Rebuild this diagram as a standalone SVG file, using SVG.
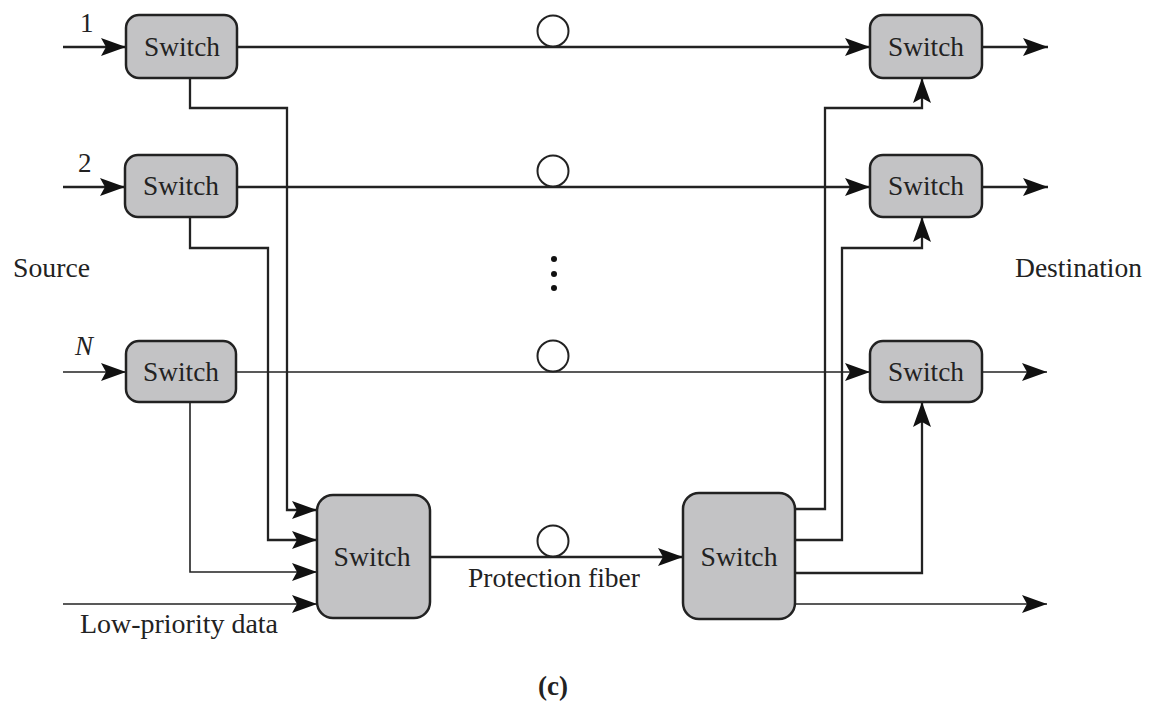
<svg xmlns="http://www.w3.org/2000/svg" width="1153" height="704" viewBox="0 0 1153 704">
<style>
.sw{fill:#c3c3c5;stroke:#222;stroke-width:2.5}
.t{font-family:"Liberation Serif","Times New Roman",serif;font-size:27px;fill:#222}
.c{text-anchor:middle}
.ln{fill:none;stroke:#222;stroke-width:2.3}
.thin{fill:none;stroke:#222;stroke-width:1.6}
.loop{fill:#fff;stroke:#222;stroke-width:2}
</style>
<defs>
<marker id="ah" markerUnits="userSpaceOnUse" markerWidth="28" markerHeight="20" refX="25" refY="9" orient="auto">
<path d="M0,0 L25,9 L0,18 L5,9 z" fill="#111"/>
</marker>
</defs>
<rect width="1153" height="704" fill="#fff"/>
<g id="connectors">
<path class="ln" d="M63,47 H126" marker-end="url(#ah)"/>
<path class="ln" d="M63,187 H125" marker-end="url(#ah)"/>
<path class="thin" d="M63,372 H126" marker-end="url(#ah)"/>
<path class="ln" d="M237,47 H870" marker-end="url(#ah)"/>
<path class="ln" d="M237,187 H870" marker-end="url(#ah)"/>
<path class="thin" d="M236,372 H870" marker-end="url(#ah)"/>
<path class="ln" d="M982,47 H1048" marker-end="url(#ah)"/>
<path class="ln" d="M982,187 H1048" marker-end="url(#ah)"/>
<path class="thin" d="M982,372 H1047" marker-end="url(#ah)"/>
<path class="ln" d="M190,78 V108 H287 V510 H317" marker-end="url(#ah)"/>
<path class="ln" d="M190,217 V248 H268 V540 H317" marker-end="url(#ah)"/>
<path class="thin" d="M190,402 V572 H317" marker-end="url(#ah)"/>
<path class="thin" d="M63,604 H317" marker-end="url(#ah)"/>
<path class="ln" d="M430,557 H683" marker-end="url(#ah)"/>
<path class="ln" d="M795,509 H825 V108 H922 V78" marker-end="url(#ah)"/>
<path class="ln" d="M795,540 H842 V248 H922 V217" marker-end="url(#ah)"/>
<path class="ln" d="M795,573 H922 V402" marker-end="url(#ah)"/>
<path class="thin" d="M795,604 H1047" marker-end="url(#ah)"/>
<circle class="loop" cx="553" cy="31" r="15.5"/>
<circle class="loop" cx="553" cy="171" r="15.5"/>
<circle class="loop" cx="553" cy="356" r="15.5"/>
<circle class="loop" cx="553" cy="541" r="15.5"/>
<circle cx="554" cy="259" r="3" fill="#111"/>
<circle cx="554" cy="274" r="3" fill="#111"/>
<circle cx="554" cy="288" r="3" fill="#111"/>
</g>
<g id="sw1"><rect class="sw" x="126" y="15" width="111" height="63" rx="13"/><text class="t c" x="182" y="56" textLength="76" lengthAdjust="spacingAndGlyphs">Switch</text></g>
<g id="sw2"><rect class="sw" x="125" y="155" width="112" height="62" rx="13"/><text class="t c" x="181" y="195" textLength="76" lengthAdjust="spacingAndGlyphs">Switch</text></g>
<g id="swN"><rect class="sw" x="126" y="341" width="110" height="61" rx="13"/><text class="t c" x="181" y="381" textLength="76" lengthAdjust="spacingAndGlyphs">Switch</text></g>
<g id="sd1"><rect class="sw" x="870" y="15" width="112" height="63" rx="13"/><text class="t c" x="926" y="56" textLength="76" lengthAdjust="spacingAndGlyphs">Switch</text></g>
<g id="sd2"><rect class="sw" x="870" y="155" width="112" height="62" rx="13"/><text class="t c" x="926" y="195" textLength="76" lengthAdjust="spacingAndGlyphs">Switch</text></g>
<g id="sdN"><rect class="sw" x="870" y="341" width="112" height="61" rx="13"/><text class="t c" x="926" y="381" textLength="76" lengthAdjust="spacingAndGlyphs">Switch</text></g>
<g id="pL"><rect class="sw" x="317" y="495" width="113" height="123" rx="16"/><text class="t c" x="372" y="566" textLength="77" lengthAdjust="spacingAndGlyphs">Switch</text></g>
<g id="pR"><rect class="sw" x="683" y="493" width="112" height="126" rx="16"/><text class="t c" x="739" y="566" textLength="77" lengthAdjust="spacingAndGlyphs">Switch</text></g>
<g id="labels">
<text class="t" x="80" y="32">1</text>
<text class="t" x="78" y="172">2</text>
<text class="t" x="75" y="355" font-style="italic">N</text>
<text class="t" x="13" y="277" textLength="77" lengthAdjust="spacingAndGlyphs">Source</text>
<text class="t" x="1015" y="277" textLength="127" lengthAdjust="spacingAndGlyphs">Destination</text>
<text class="t" x="80" y="633" textLength="198" lengthAdjust="spacingAndGlyphs">Low-priority data</text>
<text class="t" x="468" y="587" textLength="172" lengthAdjust="spacingAndGlyphs">Protection fiber</text>
<text class="t c" x="553" y="695" font-weight="bold" font-size="24">(c)</text>
</g>
</svg>
